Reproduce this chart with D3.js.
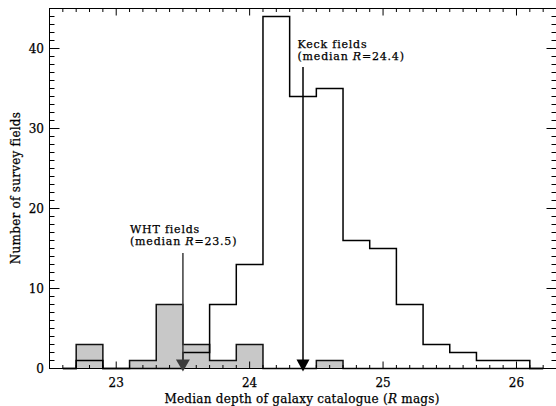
<!DOCTYPE html>
<html>
<head>
<meta charset="utf-8">
<script src="https://cdn.jsdelivr.net/npm/d3@7"></script>
<style>
  html, body { margin: 0; padding: 0; background: #fff; }
  svg { display: block; }
  text { font-family: "DejaVu Serif", "Liberation Serif", serif; fill: #000; stroke: #000; stroke-width: 0.25; }
</style>
</head>
<body>
<svg id="chart" width="556" height="406"></svg>
<script>
// Histogram bins: centres of 0.2-mag bins in median catalogue depth (R mags)
const binCenters = [22.6, 22.8, 23.0, 23.2, 23.4, 23.6, 23.8, 24.0, 24.2, 24.4,
                    24.6, 24.8, 25.0, 25.2, 25.4, 25.6, 25.8, 26.0, 26.2];
const binWidth = 0.2;
// Number of Keck survey fields per bin
const keckCounts = [0, 1, 0, 0, 0, 2, 8, 13, 44, 34, 35, 16, 15, 8, 3, 2, 1, 1, 0];
// Number of WHT survey fields per bin
const whtCounts  = [0, 3, 0, 1, 8, 3, 1, 3, 0, 0, 1, 0, 0, 0, 0, 0, 0, 0, 0];
// Median depths marked with arrows
const keckMedian = 24.4;
const whtMedian = 23.5;
// Axis ticks
const xTickValues = [23, 24, 25, 26];
const yTickValues = [0, 10, 20, 30, 40];

const svg = d3.select("#chart");
const x = d3.scaleLinear().domain([22.5, 26.3]).range([49.5, 556.5]);
const y = d3.scaleLinear().domain([0, 45]).range([368.5, 8.5]);
const [x0, x1] = x.range();
const [yb, yt] = y.range();

// Step outline in the style of a histogram plot: flat across each bin,
// vertical jumps at the bin edges, starting and ending at the outer centres.
function stepPoints(counts) {
  const pts = [];
  counts.forEach((c, i) => {
    const lo = i === 0 ? binCenters[i] : binCenters[i] - binWidth / 2;
    const hi = i === counts.length - 1 ? binCenters[i] : binCenters[i] + binWidth / 2;
    pts.push([lo, c], [hi, c]);
  });
  return pts;
}
const line = d3.line().x(d => x(d[0])).y(d => y(d[1]));

// WHT histogram: grey filled
const whtPts = stepPoints(whtCounts);
const whtFill = [[whtPts[0][0], 0], ...whtPts, [whtPts[whtPts.length - 1][0], 0]];
svg.append("path")
  .attr("d", line(whtFill) + "Z")
  .attr("fill", "#c8c8c8")
  .attr("stroke", "none");
svg.append("path")
  .attr("d", line(whtPts))
  .attr("fill", "none")
  .attr("stroke", "#111")
  .attr("stroke-width", 1.5);

// Keck histogram: open outline
svg.append("path")
  .attr("d", line(stepPoints(keckCounts)))
  .attr("fill", "none")
  .attr("stroke", "#000")
  .attr("stroke-width", 1.5);

// Axis frame with inward ticks on all four sides
const frame = svg.append("g").attr("stroke", "#000").attr("stroke-width", 1);
frame.append("rect")
  .attr("x", x0).attr("y", yt)
  .attr("width", x1 - x0).attr("height", yb - yt)
  .attr("fill", "none");

const xMinor = d3.range(226, 264).map(v => v / 10).filter(v => v > 22.5 && v < 26.3);
xMinor.forEach(v => {
  const major = Math.abs(v - Math.round(v)) < 1e-6;
  const len = major ? 7 : 3.5;
  frame.append("line").attr("x1", x(v)).attr("x2", x(v)).attr("y1", yb).attr("y2", yb - len);
  frame.append("line").attr("x1", x(v)).attr("x2", x(v)).attr("y1", yt).attr("y2", yt + len);
});
d3.range(1, 45).forEach(v => {
  const major = v % 10 === 0;
  const len = major ? 10 : 5;
  frame.append("line").attr("x1", x0).attr("x2", x0 + len).attr("y1", y(v)).attr("y2", y(v));
  frame.append("line").attr("x1", x1).attr("x2", x1 - len).attr("y1", y(v)).attr("y2", y(v));
});

// Tick labels
svg.append("g").selectAll("text").data(xTickValues).join("text")
  .attr("x", d => x(d)).attr("y", 387)
  .attr("text-anchor", "middle")
  .attr("font-size", 12)
  .text(d => d);
svg.append("g").selectAll("text").data(yTickValues).join("text")
  .attr("x", 44).attr("y", d => y(d) + 4)
  .attr("text-anchor", "end")
  .attr("font-size", 12)
  .text(d => d);

// Axis titles
const xt = svg.append("text")
  .attr("x", 302).attr("y", 403)
  .attr("text-anchor", "middle")
  .attr("font-size", 12)
  .attr("letter-spacing", 0.25);
xt.append("tspan").text("Median depth of galaxy catalogue (");
xt.append("tspan").attr("font-style", "italic").text("R");
xt.append("tspan").text(" mags)");

svg.append("text")
  .attr("transform", "translate(19.5,188) rotate(-90)")
  .attr("text-anchor", "middle")
  .attr("font-size", 12)
  .attr("letter-spacing", 0.25)
  .text("Number of survey fields");

// Median arrows
function arrow(xv, yTop, colour, halfW) {
  const g = svg.append("g");
  const px = x(xv);
  g.append("line")
    .attr("x1", px).attr("x2", px).attr("y1", yTop).attr("y2", yb - 8)
    .attr("stroke", colour).attr("stroke-width", 1.5);
  g.append("path")
    .attr("d", `M${px - halfW},${yb - 9}L${px + halfW},${yb - 9}L${px},${yb + 3}Z`)
    .attr("fill", colour);
}
arrow(whtMedian, 253, "#3c3c3c", 7);
arrow(keckMedian, 67, "#000", 6.5);

// Annotations (two lines each)
function label(px, py, name, med) {
  const t = svg.append("text").attr("x", px).attr("y", py)
    .attr("font-size", 11).attr("letter-spacing", 0.8);
  t.append("tspan").text(name);
  const t2 = svg.append("text").attr("x", px).attr("y", py + 12.8)
    .attr("font-size", 11).attr("letter-spacing", 0.8);
  t2.append("tspan").text("(median ");
  t2.append("tspan").attr("font-style", "italic").text("R");
  t2.append("tspan").text("=" + med.toFixed(1) + ")");
}
label(297.5, 47.5, "Keck fields", keckMedian);
label(130, 232.5, "WHT fields", whtMedian);
</script>
</body>
</html>
